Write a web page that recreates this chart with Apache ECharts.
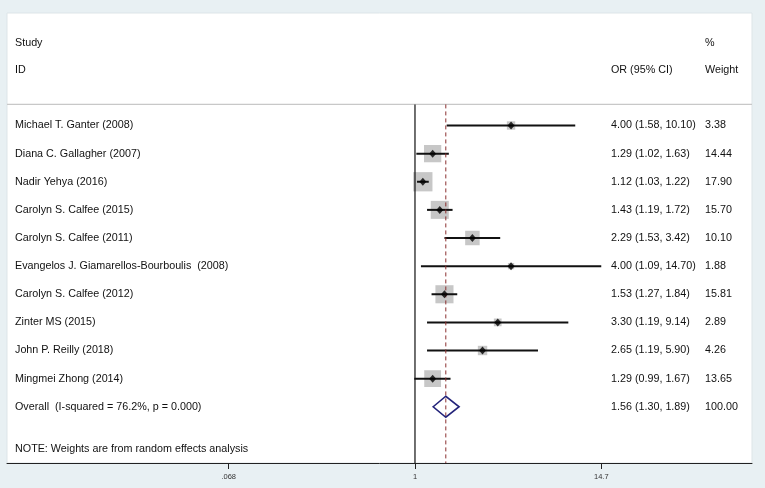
<!DOCTYPE html>
<html>
<head>
<meta charset="utf-8">
<script src="https://cdn.jsdelivr.net/npm/echarts@6/dist/echarts.min.js"></script>
<style>
  html, body { margin: 0; padding: 0; background: #e8f0f3; }
  #chart { width: 765px; height: 488px; }
</style>
</head>
<body>
<div id="chart"></div>
<script>
// forest plot data
const studies = [
  "Michael T. Ganter (2008)",
  "Diana C. Gallagher (2007)",
  "Nadir Yehya (2016)",
  "Carolyn S. Calfee (2015)",
  "Carolyn S. Calfee (2011)",
  "Evangelos J. Giamarellos-Bourboulis  (2008)",
  "Carolyn S. Calfee (2012)",
  "Zinter MS (2015)",
  "John P. Reilly (2018)",
  "Mingmei Zhong (2014)"
];
const orValues = [4.00, 1.29, 1.12, 1.43, 2.29, 4.00, 1.53, 3.30, 2.65, 1.29];
const ciLow = [1.58, 1.02, 1.03, 1.19, 1.53, 1.09, 1.27, 1.19, 1.19, 0.99];
const ciHigh = [10.10, 1.63, 1.22, 1.72, 3.42, 14.70, 1.84, 9.14, 5.90, 1.67];
const weights = [3.38, 14.44, 17.90, 15.70, 10.10, 1.88, 15.81, 2.89, 4.26, 13.65];
const overall = { label: "Overall  (I-squared = 76.2%, p = 0.000)", or: 1.56, lo: 1.30, hi: 1.89, weight: 100.00 };
const tickValues = [0.068, 1, 14.7];
const tickLabels = [".068", "1", "14.7"];

const ln = Math.log;
const rowOverall = studies.length;
const lineTop = -0.75, lineBottom = 12;

const chart = echarts.init(document.getElementById("chart"));

const font = '"Liberation Sans", Arial, sans-serif';

const option = {
  backgroundColor: "#e8f0f3",
  animation: false,
  grid: {
    left: 7, right: 13, top: 13, bottom: 25,
    show: true, backgroundColor: "#ffffff", borderColor: "#dde5e8", borderWidth: 1
  },
  xAxis: {
    type: "value",
    min: -5.887, max: 4.863,
    axisLine: { show: true, onZero: false, lineStyle: { color: "#222", width: 1 } },
    axisTick: { show: true, length: 6, customValues: tickValues.map(v => ln(v)), lineStyle: { color: "#222" } },
    axisLabel: {
      customValues: tickValues.map(v => ln(v)),
      formatter: v => {
        const k = tickValues.findIndex(t => Math.abs(ln(t) - v) < 1e-6);
        return k >= 0 ? tickLabels[k] : "";
      },
      fontSize: 7.5, color: "#333", margin: 10, fontFamily: font
    },
    splitLine: { show: false }
  },
  yAxis: {
    type: "value", inverse: true, min: -4, max: 12, show: false
  },
  series: [
    { // header rule
      type: "line", silent: true, symbol: "none",
      data: [[-5.887, lineTop], [4.863, lineTop]],
      lineStyle: { color: "#c8c8c8", width: 1.2 }
    },
    { // null line
      type: "line", silent: true, symbol: "none",
      data: [[0, lineTop], [0, lineBottom]],
      lineStyle: { color: "#111", width: 1.2 }
    },
    { // overall effect line
      type: "line", silent: true, symbol: "none",
      data: [[ln(overall.or), lineTop], [ln(overall.or), lineBottom]],
      lineStyle: { color: "#8b3030", width: 1, type: [4, 3] }
    },
    { // weight squares
      type: "scatter", symbol: "rect",
      data: orValues.map((v, i) => [ln(v), i, weights[i]]),
      symbolSize: d => 4.55 * Math.sqrt(d[2]),
      itemStyle: { color: "#b9b9b9" }, z: 2
    },
    { // CI lines
      type: "custom", z: 3,
      data: ciLow.map((v, i) => [ln(v), ln(ciHigh[i]), i]),
      renderItem: (params, api) => {
        const a = api.coord([api.value(0), api.value(2)]);
        const b = api.coord([api.value(1), api.value(2)]);
        return { type: "line", shape: { x1: a[0], y1: a[1], x2: b[0], y2: b[1] }, style: { stroke: "#111", lineWidth: 2 } };
      }
    },
    { // point estimates
      type: "scatter", symbol: "diamond", symbolSize: [7, 8], z: 4,
      data: orValues.map((v, i) => [ln(v), i]),
      itemStyle: { color: "#000" }
    },
    { // pooled diamond
      type: "custom", z: 4,
      data: [[ln(overall.lo), ln(overall.or), ln(overall.hi), rowOverall]],
      renderItem: (params, api) => {
        const r = api.value(3);
        const l = api.coord([api.value(0), r]);
        const c = api.coord([api.value(1), r]);
        const h = api.coord([api.value(2), r]);
        const half = 10.5;
        return {
          type: "polygon",
          shape: { points: [[l[0], l[1]], [c[0], c[1] - half], [h[0], h[1]], [c[0], c[1] + half]] },
          style: { fill: "none", stroke: "#23237a", lineWidth: 1.6 }
        };
      }
    }
  ]
};

chart.setOption(option);

const yPix = i => chart.convertToPixel({ yAxisIndex: 0 }, i);
const txt = (x, row, text) => ({
  type: "text", x: x, y: yPix(row),
  style: { text: text, fill: "#111", font: "10.75px " + font, textVerticalAlign: "middle" },
  silent: true
});

const ciText = (o, l, h) => o.toFixed(2) + " (" + l.toFixed(2) + ", " + h.toFixed(2) + ")";

const elements = [
  txt(15, -2.93, "Study"),
  txt(15, -1.97, "ID"),
  txt(611, -1.97, "OR (95% CI)"),
  txt(705, -2.93, "%"),
  txt(705, -1.97, "Weight")
];
studies.forEach((s, i) => {
  elements.push(txt(15, i, s));
  elements.push(txt(611, i, ciText(orValues[i], ciLow[i], ciHigh[i])));
  elements.push(txt(705, i, weights[i].toFixed(2)));
});
elements.push(txt(15, rowOverall, overall.label));
elements.push(txt(611, rowOverall, ciText(overall.or, overall.lo, overall.hi)));
elements.push(txt(705, rowOverall, overall.weight.toFixed(2)));
elements.push(txt(15, 11.52, "NOTE: Weights are from random effects analysis"));

chart.setOption({ graphic: { elements: elements } });
</script>
</body>
</html>
